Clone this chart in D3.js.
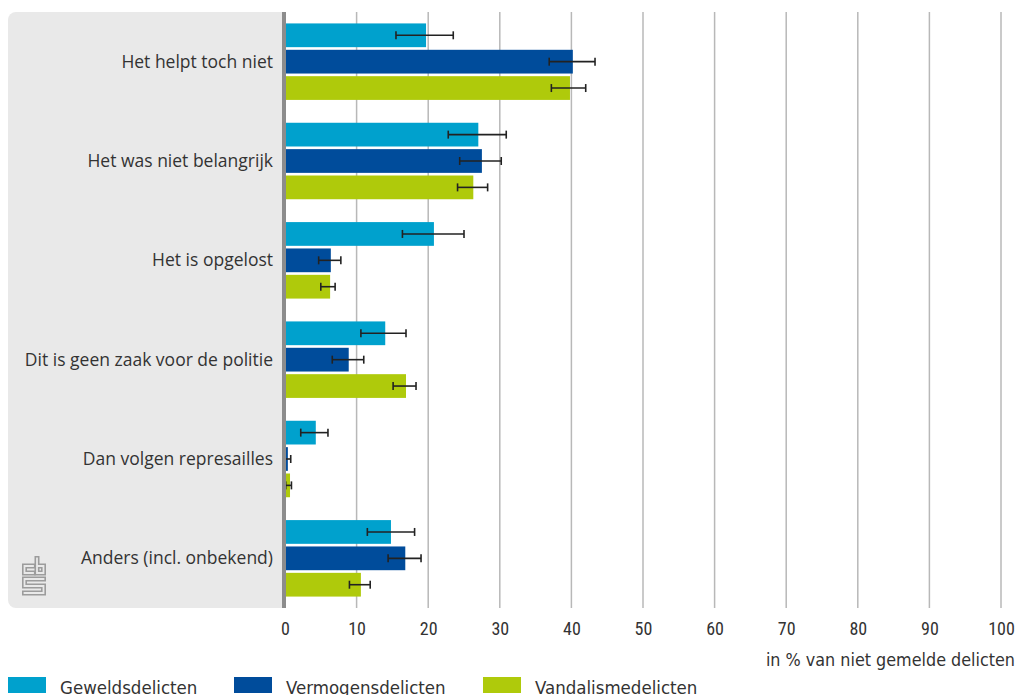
<!DOCTYPE html>
<html>
<head>
<meta charset="utf-8">
<script src="https://cdn.jsdelivr.net/npm/d3@7"></script>
<style>
  body { margin: 0; background: #fff; }
  svg { display: block; }
</style>
</head>
<body>
<svg id="chart" width="1017" height="695"></svg>
<script>
var categories = [
    "Het helpt toch niet",
    "Het was niet belangrijk",
    "Het is opgelost",
    "Dit is geen zaak voor de politie",
    "Dan volgen represailles",
    "Anders (incl. onbekend)"
];
var seriesNames = ["Geweldsdelicten", "Vermogensdelicten", "Vandalismedelicten"];
var seriesColors = ["#00a1cd", "#004c9b", "#afca0b"];

// value, lower, upper per category
var geweld = [19.7, 27.0, 20.8, 14.0, 4.3, 14.8];
var geweldLo = [15.5, 22.8, 16.4, 10.6, 2.2, 11.5];
var geweldHi = [23.5, 30.9, 25.0, 16.9, 6.0, 18.1];

var vermogen = [40.2, 27.5, 6.4, 8.9, 0.4, 16.8];
var vermogenLo = [36.9, 24.4, 4.7, 6.6, 0.0, 14.4];
var vermogenHi = [43.3, 30.2, 7.8, 11.0, 0.8, 19.0];

var vandalisme = [39.8, 26.3, 6.3, 16.9, 0.7, 10.6];
var vandalismeLo = [37.2, 24.1, 5.0, 15.1, 0.1, 9.0];
var vandalismeHi = [42.0, 28.3, 7.0, 18.3, 0.9, 11.9];

var xTicks = [0, 10, 20, 30, 40, 50, 60, 70, 80, 90, 100];
var axisTitle = "in % van niet gemelde delicten";

var values = [geweld, vermogen, vandalisme];
var lows = [geweldLo, vermogenLo, vandalismeLo];
var highs = [geweldHi, vermogenHi, vandalismeHi];

var rows = [];
categories.forEach(function (cat, i) {
    seriesNames.forEach(function (s, j) {
        rows.push({ cat: cat, series: s, idx: j, value: values[j][i], lo: lows[j][i], hi: highs[j][i] });
    });
});

var svg = d3.select("#chart");
var plotTop = 12, plotBottom = 608, plotLeft = 285, plotRight = 1001;
var narrow = "'Roboto Condensed', 'DejaVu Sans Condensed', sans-serif";
var condensed = "'DejaVu Sans Condensed', sans-serif";

var x = d3.scaleLinear().domain([0, 100]).range([plotLeft, plotRight]);
var y0 = d3.scaleBand().domain(categories).range([plotTop, plotBottom]).paddingInner(0.23).paddingOuter(0.115);
var y1 = d3.scaleBand().domain(seriesNames).range([0, y0.bandwidth()]).paddingInner(0.1);

// panel
svg.append("rect")
    .attr("x", 8).attr("y", plotTop)
    .attr("width", 290).attr("height", plotBottom - plotTop)
    .attr("rx", 8)
    .attr("fill", "#e9e9e9");
svg.append("rect")
    .attr("x", 286).attr("y", plotTop - 1)
    .attr("width", 20).attr("height", plotBottom - plotTop + 2)
    .attr("fill", "#fff");

// grid
svg.append("g")
    .selectAll("line")
    .data(xTicks.filter(function (d) { return d > 0; }))
    .enter()
    .append("line")
    .attr("x1", function (d) { return x(d); })
    .attr("x2", function (d) { return x(d); })
    .attr("y1", plotTop)
    .attr("y2", plotBottom)
    .attr("stroke", "#b8b8b8")
    .attr("stroke-width", 1.5);

// bars
svg.append("g")
    .selectAll("rect")
    .data(rows)
    .enter()
    .append("rect")
    .attr("x", x(0))
    .attr("y", function (d) { return y0(d.cat) + y1(d.series); })
    .attr("width", function (d) { return x(d.value) - x(0); })
    .attr("height", y1.bandwidth())
    .attr("fill", function (d) { return seriesColors[d.idx]; });

// error bars
var err = svg.append("g")
    .selectAll("g")
    .data(rows)
    .enter()
    .append("g")
    .attr("stroke", "#222")
    .attr("stroke-width", 1.6);
err.append("line")
    .attr("x1", function (d) { return x(d.lo); })
    .attr("x2", function (d) { return x(d.hi); })
    .attr("y1", function (d) { return y0(d.cat) + y1(d.series) + y1.bandwidth() / 2; })
    .attr("y2", function (d) { return y0(d.cat) + y1(d.series) + y1.bandwidth() / 2; });
["lo", "hi"].forEach(function (k) {
    err.append("line")
        .attr("x1", function (d) { return x(d[k]); })
        .attr("x2", function (d) { return x(d[k]); })
        .attr("y1", function (d) { return y0(d.cat) + y1(d.series) + y1.bandwidth() / 2 - 4; })
        .attr("y2", function (d) { return y0(d.cat) + y1(d.series) + y1.bandwidth() / 2 + 4; });
});

// zero axis line
svg.append("line")
    .attr("x1", x(0) - 1).attr("x2", x(0) - 1)
    .attr("y1", plotTop).attr("y2", plotBottom)
    .attr("stroke", "#8c8c8c")
    .attr("stroke-width", 4);

// category labels
svg.append("g")
    .selectAll("text")
    .data(categories)
    .enter()
    .append("text")
    .attr("x", 273)
    .attr("y", function (d) { return y0(d) + y0.bandwidth() / 2; })
    .attr("dy", "0.35em")
    .attr("text-anchor", "end")
    .attr("font-family", "'Open Sans', 'Noto Sans', sans-serif")
    .attr("font-size", 17.5)
    .attr("fill", "#333")
    .text(function (d) { return d; });

// x axis
var xAxis = svg.append("g")
    .attr("transform", "translate(0," + plotBottom + ")")
    .call(d3.axisBottom(x).tickValues(xTicks).tickSize(0).tickPadding(14));
xAxis.select(".domain").remove();
xAxis.selectAll("text")
    .attr("font-family", narrow)
    .attr("font-size", 18)
    .attr("fill", "#333");

svg.append("text")
    .attr("x", 1015)
    .attr("y", 666)
    .attr("text-anchor", "end")
    .attr("font-family", condensed)
    .attr("font-size", 17.8)
    .attr("fill", "#333")
    .text(axisTitle);

// legend
var legendX = [8, 234, 483];
var legend = svg.append("g")
    .selectAll("g")
    .data(seriesNames)
    .enter()
    .append("g")
    .attr("transform", function (d, i) { return "translate(" + legendX[i] + ",677)"; });
legend.append("rect")
    .attr("width", 38).attr("height", 16)
    .attr("fill", function (d, i) { return seriesColors[i]; });
legend.append("text")
    .attr("x", 52)
    .attr("y", 17)
    .attr("font-family", condensed)
    .attr("font-size", 18.5)
    .attr("fill", "#333")
    .text(function (d) { return d; });

// cbs logo (outlined strokes)
var logoPaths = [
    "M11,9 H2.5 V16 H11",
    "M15,1.5 V16 H21.5 V9 H15",
    "M21.5,22 H2.5 V29 H21.5 V36 H2.5"
];
var logo = svg.append("g")
    .attr("transform", "translate(22,557)")
    .attr("fill", "none")
    .attr("stroke-linecap", "square");
logo.selectAll("path.o")
    .data(logoPaths)
    .enter()
    .append("path")
    .attr("d", function (d) { return d; })
    .attr("stroke", "#9c9c9c")
    .attr("stroke-width", 5);
logo.selectAll("path.i")
    .data(logoPaths)
    .enter()
    .append("path")
    .attr("d", function (d) { return d; })
    .attr("stroke", "#e9e9e9")
    .attr("stroke-width", 1.8);
</script>
</body>
</html>
